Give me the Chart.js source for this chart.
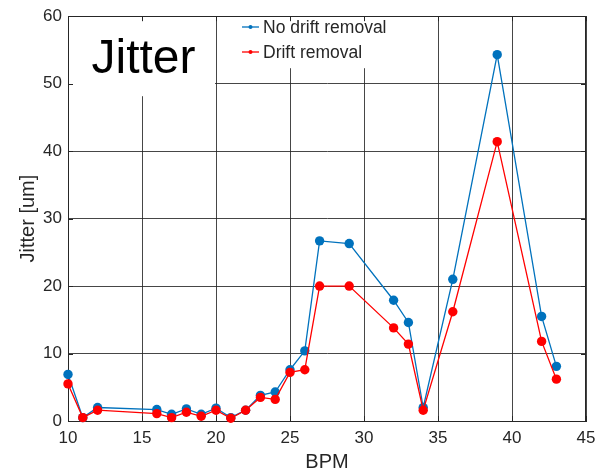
<!DOCTYPE html>
<html>
<head>
<meta charset="utf-8">
<script src="https://cdn.jsdelivr.net/npm/chart.js@4/dist/chart.umd.min.js"></script>
<style>
  html, body { margin: 0; padding: 0; background: #fff; }
  #wrap { width: 607px; height: 471px; }
</style>
</head>
<body>
<div id="wrap"><canvas id="c" width="607" height="471"></canvas></div>
<script>
// BPM index and jitter (um) per BPM
const bpm = [10, 11, 12, 16, 17, 18, 19, 20, 21, 22, 23, 24, 25, 26, 27, 29, 32, 33, 34, 36, 39, 42, 43];
const noDriftRemoval = [6.9, 0.5, 2.0, 1.7, 1.0, 1.8, 1.0, 1.9, 0.5, 1.6, 3.8, 4.3, 7.6, 10.4, 26.7, 26.3, 17.9, 14.6, 2.0, 21.0, 54.3, 15.5, 8.1];
const driftRemoval   = [5.5, 0.5, 1.6, 1.1, 0.5, 1.3, 0.7, 1.6, 0.4, 1.6, 3.5, 3.2, 7.2, 7.6, 20.0, 20.0, 13.8, 11.4, 1.6, 16.2, 41.4, 11.8, 6.2];
const seriesNames = ['No drift removal', 'Drift removal'];
const seriesColors = ['#0072BD', '#FF0000'];
const xTicks = [10, 15, 20, 25, 30, 35, 40, 45];
const yTicks = [0, 10, 20, 30, 40, 50, 60];

const FONT = '"Liberation Sans", Arial, Helvetica, sans-serif';
const TEXT = '#262626';
const GRID = 'rgba(38,38,38,0.85)';

const toPoints = (xs, ys) => xs.map((x, i) => ({ x: x, y: ys[i] }));

// White title box, legend box, frame and inward ticks
const decorations = {
  id: 'decorations',
  beforeDatasetsDraw(chart) {
    const ctx = chart.ctx;
    const a = chart.chartArea;
    const xs = chart.scales.x, ys = chart.scales.y;
    ctx.save();
    ctx.fillStyle = '#ffffff';
    // title box in the top-left corner
    ctx.fillRect(a.left, a.top, xs.getPixelForValue(20) - 1 - a.left, 80);
    // legend box
    ctx.fillRect(xs.getPixelForValue(20) + 1, a.top, 212, 52);

    // frame
    ctx.strokeStyle = TEXT;
    ctx.lineWidth = 1;
    ctx.strokeRect(Math.round(a.left) + 0.5, Math.round(a.top) + 0.5,
                   Math.round(a.right - a.left) - 1, Math.round(a.bottom - a.top));

    // inward ticks on all four sides
    ctx.beginPath();
    xTicks.forEach(v => {
      const px = Math.round(xs.getPixelForValue(v)) + 0.5;
      ctx.moveTo(px, a.top); ctx.lineTo(px, a.top + 5);
      ctx.moveTo(px, a.bottom); ctx.lineTo(px, a.bottom - 5);
    });
    yTicks.forEach(v => {
      const py = Math.round(ys.getPixelForValue(v)) + 0.5;
      ctx.moveTo(a.left, py); ctx.lineTo(a.left + 5, py);
      ctx.moveTo(a.right, py); ctx.lineTo(a.right - 5, py);
    });
    ctx.stroke();

    // big title text
    ctx.fillStyle = '#000000';
    ctx.font = '48px ' + FONT;
    ctx.textAlign = 'center';
    ctx.textBaseline = 'alphabetic';
    ctx.fillText('Jitter', 143.5, 73);

    // legend entries
    const ly = [27, 52];
    ctx.font = '17.5px ' + FONT;
    ctx.textAlign = 'left';
    ctx.textBaseline = 'middle';
    seriesNames.forEach((name, i) => {
      ctx.strokeStyle = seriesColors[i];
      ctx.lineWidth = 1.3;
      ctx.beginPath();
      ctx.moveTo(242, ly[i]); ctx.lineTo(259, ly[i]);
      ctx.stroke();
      ctx.fillStyle = seriesColors[i];
      ctx.beginPath();
      ctx.arc(250.5, ly[i], 2, 0, Math.PI * 2);
      ctx.fill();
      ctx.fillStyle = TEXT;
      ctx.fillText(name, 263, ly[i] + 1);
    });
    ctx.restore();
  }
};

new Chart(document.getElementById('c'), {
  type: 'line',
  data: {
    datasets: [
      {
        label: seriesNames[0],
        data: toPoints(bpm, noDriftRemoval),
        borderColor: seriesColors[0],
        backgroundColor: seriesColors[0],
        borderWidth: 1.3,
        pointRadius: 4.7,
        pointBorderWidth: 0,
        pointBackgroundColor: seriesColors[0],
        tension: 0,
        clip: false,
        order: 2
      },
      {
        label: seriesNames[1],
        data: toPoints(bpm, driftRemoval),
        borderColor: seriesColors[1],
        backgroundColor: seriesColors[1],
        borderWidth: 1.3,
        pointRadius: 4.7,
        pointBorderWidth: 0,
        pointBackgroundColor: seriesColors[1],
        tension: 0,
        clip: false,
        order: 1
      }
    ]
  },
  options: {
    responsive: false,
    animation: false,
    layout: { padding: { top: 13, right: 21, left: 0, bottom: 0 } },
    plugins: {
      legend: { display: false },
      tooltip: { enabled: false }
    },
    scales: {
      x: {
        type: 'linear',
        min: 10, max: 45,
        afterFit(s) { s.height = 50; },
        afterBuildTicks(s) { s.ticks = xTicks.map(v => ({ value: v })); },
        grid: { color: GRID, lineWidth: 1, drawTicks: false },
        border: { color: TEXT, width: 1 },
        ticks: { color: TEXT, font: { family: FONT, size: 17 }, padding: 7, maxRotation: 0 },
        title: {
          display: true, text: 'BPM', color: TEXT,
          font: { family: FONT, size: 20, lineHeight: 1 },
          padding: { top: 0, bottom: -1 }
        }
      },
      y: {
        min: 0, max: 60,
        afterFit(s) { s.width = 68; },
        afterBuildTicks(s) { s.ticks = yTicks.map(v => ({ value: v })); },
        grid: { color: GRID, lineWidth: 1, drawTicks: false },
        border: { color: TEXT, width: 1 },
        ticks: { color: TEXT, font: { family: FONT, size: 17 }, padding: 6 },
        title: {
          display: true, text: 'Jitter [um]', color: TEXT,
          font: { family: FONT, size: 20, lineHeight: 1 },
          padding: { top: 18, bottom: 0 }
        }
      }
    }
  },
  plugins: [decorations]
});
</script>
</body>
</html>
